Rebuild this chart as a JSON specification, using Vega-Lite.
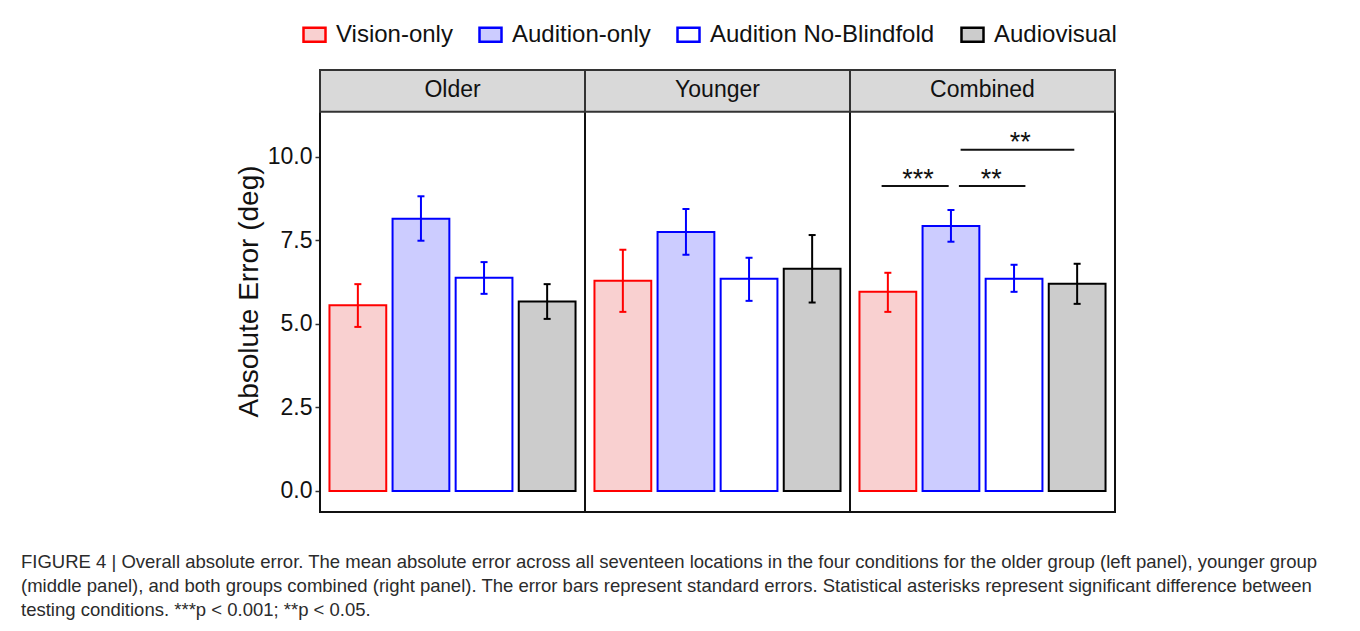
{
  "$schema": "https://vega.github.io/schema/vega-lite/v6.json",
  "background": "white",
  "padding": {"left": 21, "top": 22, "right": 0, "bottom": 0},
  "config": {
    "font": "Liberation Sans",
    "view": {"stroke": "#111111", "strokeWidth": 2}
  },
  "title": {
    "text": [
      "FIGURE 4 | Overall absolute error. The mean absolute error across all seventeen locations in the four conditions for the older group (left panel), younger group",
      "(middle panel), and both groups combined (right panel). The error bars represent standard errors. Statistical asterisks represent significant difference between",
      "testing conditions. ***p < 0.001; **p < 0.05."
    ],
    "orient": "bottom",
    "anchor": "start",
    "frame": "group",
    "dx": -299,
    "offset": 40,
    "fontSize": 18.5,
    "fontWeight": "normal",
    "color": "#2B2B2B",
    "lineHeight": 24,
    "baseline": "top"
  },
  "data": {
    "values": [
      {"kind": "bar", "panel": "Older", "condition": "Vision-only", "mean": 5.56, "lo": 4.91, "hi": 6.19},
      {"kind": "bar", "panel": "Older", "condition": "Audition-only", "mean": 8.15, "lo": 7.49, "hi": 8.82},
      {"kind": "bar", "panel": "Older", "condition": "Audition No-Blindfold", "mean": 6.38, "lo": 5.9, "hi": 6.85},
      {"kind": "bar", "panel": "Older", "condition": "Audiovisual", "mean": 5.67, "lo": 5.15, "hi": 6.19},
      {"kind": "bar", "panel": "Younger", "condition": "Vision-only", "mean": 6.29, "lo": 5.36, "hi": 7.22},
      {"kind": "bar", "panel": "Younger", "condition": "Audition-only", "mean": 7.75, "lo": 7.07, "hi": 8.44},
      {"kind": "bar", "panel": "Younger", "condition": "Audition No-Blindfold", "mean": 6.35, "lo": 5.69, "hi": 6.98},
      {"kind": "bar", "panel": "Younger", "condition": "Audiovisual", "mean": 6.65, "lo": 5.64, "hi": 7.66},
      {"kind": "bar", "panel": "Combined", "condition": "Vision-only", "mean": 5.96, "lo": 5.36, "hi": 6.53},
      {"kind": "bar", "panel": "Combined", "condition": "Audition-only", "mean": 7.93, "lo": 7.46, "hi": 8.41},
      {"kind": "bar", "panel": "Combined", "condition": "Audition No-Blindfold", "mean": 6.35, "lo": 5.96, "hi": 6.77},
      {"kind": "bar", "panel": "Combined", "condition": "Audiovisual", "mean": 6.2, "lo": 5.6, "hi": 6.8},
      {"kind": "sig", "panel": "Combined", "from": "Vision-only", "to": "Audition-only", "ly": 9.13, "stars": "***"},
      {"kind": "sig", "panel": "Combined", "from": "Audition-only", "to": "Audition No-Blindfold", "ly": 9.13, "stars": "**"},
      {"kind": "sig", "panel": "Combined", "from": "Audition-only", "to": "Audiovisual", "ly": 10.21, "stars": "**"}
    ]
  },
  "facet": {
    "column": {"field": "panel", "type": "nominal", "sort": ["Older", "Younger", "Combined"], "header": null}
  },
  "spacing": 0,
  "bounds": "flush",
  "spec": {
    "width": 265,
    "height": 442,
    "layer": [
      {
        "transform": [{"filter": "datum.kind === 'bar' && datum.condition === 'Vision-only'"}],
        "mark": {"type": "rect", "fill": "#D9D9D9", "stroke": "#333333", "strokeWidth": 2},
        "encoding": {
          "y": {"datum": 11.35, "type": "quantitative", "title": "Absolute Error (deg)",
                "scale": {"domain": [-0.63, 12.6], "nice": false, "zero": false}},
          "y2": {"datum": 12.6},
          "x": {"value": 0},
          "x2": {"value": "width"}
        }
      },
      {
        "transform": [{"filter": "datum.kind === 'bar' && datum.condition === 'Vision-only'"}],
        "mark": {"type": "text", "fontSize": 23, "color": "#111111", "baseline": "middle", "align": "center"},
        "encoding": {
          "y": {"datum": 12.0, "type": "quantitative", "title": "Absolute Error (deg)"},
          "text": {"field": "panel"}
        }
      },
      {
        "transform": [{"filter": "datum.kind === 'bar'"}],
        "mark": {"type": "bar", "strokeWidth": 2, "opacity": 1},
        "encoding": {
          "x": {"field": "condition", "type": "nominal",
                "scale": {"domain": ["Vision-only", "Audition-only", "Audition No-Blindfold", "Audiovisual"],
                          "paddingInner": 0.1, "paddingOuter": 0.15}, "axis": null},
          "y": {"field": "mean", "type": "quantitative", "stack": null, "title": "Absolute Error (deg)",
                "axis": {"values": [0, 2.5, 5, 7.5, 10], "format": ".1f", "domain": false, "grid": false,
                         "tickSize": 5, "tickWidth": 1.5, "tickColor": "#333333",
                         "labelFontSize": 23, "labelColor": "#111111", "labelPadding": 3,
                         "titleFontSize": 28, "titleFontWeight": "normal", "titleColor": "#111111", "titlePadding": 4}},
          "fill": {"field": "condition", "type": "nominal",
                   "scale": {"domain": ["Vision-only", "Audition-only", "Audition No-Blindfold", "Audiovisual"],
                             "range": ["#F9D0D0", "#CCCCFF", "#FFFFFF", "#CCCCCC"]},
                   "legend": {"orient": "none", "legendX": -18, "legendY": -48, "direction": "horizontal", "title": null,
                              "symbolType": "M-1,-0.64H1V0.64H-1Z", "symbolSize": 484, "symbolStrokeWidth": 2.5,
                              "labelFontSize": 24, "labelColor": "#111111", "labelOffset": 9, "columnPadding": 21,
                              "padding": 0, "labelLimit": 400}},
          "stroke": {"field": "condition", "type": "nominal",
                     "scale": {"domain": ["Vision-only", "Audition-only", "Audition No-Blindfold", "Audiovisual"],
                               "range": ["#FF0000", "#0000FF", "#0000FF", "#000000"]},
                     "legend": {"orient": "none", "legendX": -18, "legendY": -48, "direction": "horizontal", "title": null,
                                "symbolType": "M-1,-0.64H1V0.64H-1Z", "symbolSize": 484, "symbolStrokeWidth": 2.5,
                                "labelFontSize": 24, "labelColor": "#111111", "labelOffset": 9, "columnPadding": 21,
                                "padding": 0, "labelLimit": 400}}
        }
      },
      {
        "transform": [{"filter": "datum.kind === 'bar'"}],
        "mark": {"type": "rule", "strokeWidth": 2},
        "encoding": {
          "x": {"field": "condition", "type": "nominal"},
          "y": {"field": "lo", "type": "quantitative", "title": "Absolute Error (deg)"},
          "y2": {"field": "hi"},
          "stroke": {"field": "condition", "type": "nominal"}
        }
      },
      {
        "transform": [{"filter": "datum.kind === 'bar'"}],
        "mark": {"type": "tick", "size": 7, "thickness": 2, "opacity": 1},
        "encoding": {
          "x": {"field": "condition", "type": "nominal"},
          "y": {"field": "lo", "type": "quantitative", "title": "Absolute Error (deg)"},
          "color": {"field": "condition", "type": "nominal", "legend": null,
                    "scale": {"domain": ["Vision-only", "Audition-only", "Audition No-Blindfold", "Audiovisual"],
                              "range": ["#FF0000", "#0000FF", "#0000FF", "#000000"]}}
        }
      },
      {
        "transform": [{"filter": "datum.kind === 'bar'"}],
        "mark": {"type": "tick", "size": 7, "thickness": 2, "opacity": 1},
        "encoding": {
          "x": {"field": "condition", "type": "nominal"},
          "y": {"field": "hi", "type": "quantitative", "title": "Absolute Error (deg)"},
          "color": {"field": "condition", "type": "nominal", "legend": null}
        }
      },
      {
        "transform": [{"filter": "datum.kind === 'sig' && datum.from === 'Vision-only'"}],
        "layer": [
          {
            "mark": {"type": "rule", "strokeWidth": 2, "color": "#111111"},
            "encoding": {
              "x": {"field": "from", "type": "nominal", "bandPosition": 0.39},
              "x2": {"field": "to", "bandPosition": 0.46},
              "y": {"field": "ly", "type": "quantitative", "title": "Absolute Error (deg)"}
            }
          },
          {
            "mark": {"type": "text", "fontSize": 27, "color": "#111111", "baseline": "alphabetic", "dy": 2},
            "encoding": {
              "x": {"field": "from", "type": "nominal", "bandPosition": 1.03},
              "y": {"field": "ly", "type": "quantitative", "title": "Absolute Error (deg)"},
              "text": {"field": "stars"}
            }
          }
        ]
      },
      {
        "transform": [{"filter": "datum.kind === 'sig' && datum.to === 'Audition No-Blindfold'"}],
        "layer": [
          {
            "mark": {"type": "rule", "strokeWidth": 2, "color": "#111111"},
            "encoding": {
              "x": {"field": "from", "type": "nominal", "bandPosition": 0.64},
              "x2": {"field": "to", "bandPosition": 0.7},
              "y": {"field": "ly", "type": "quantitative", "title": "Absolute Error (deg)"}
            }
          },
          {
            "mark": {"type": "text", "fontSize": 27, "color": "#111111", "baseline": "alphabetic", "dy": 2},
            "encoding": {
              "x": {"field": "to", "type": "nominal", "bandPosition": 0.1},
              "y": {"field": "ly", "type": "quantitative", "title": "Absolute Error (deg)"},
              "text": {"field": "stars"}
            }
          }
        ]
      },
      {
        "transform": [{"filter": "datum.kind === 'sig' && datum.to === 'Audiovisual'"}],
        "layer": [
          {
            "mark": {"type": "rule", "strokeWidth": 2, "color": "#111111"},
            "encoding": {
              "x": {"field": "from", "type": "nominal", "bandPosition": 0.67},
              "x2": {"field": "to", "bandPosition": 0.45},
              "y": {"field": "ly", "type": "quantitative", "title": "Absolute Error (deg)"}
            }
          },
          {
            "mark": {"type": "text", "fontSize": 27, "color": "#111111", "baseline": "alphabetic", "dy": 1},
            "encoding": {
              "x": {"field": "to", "type": "nominal", "bandPosition": -0.5},
              "y": {"field": "ly", "type": "quantitative", "title": "Absolute Error (deg)"},
              "text": {"field": "stars"}
            }
          }
        ]
      }
    ]
  }
}
